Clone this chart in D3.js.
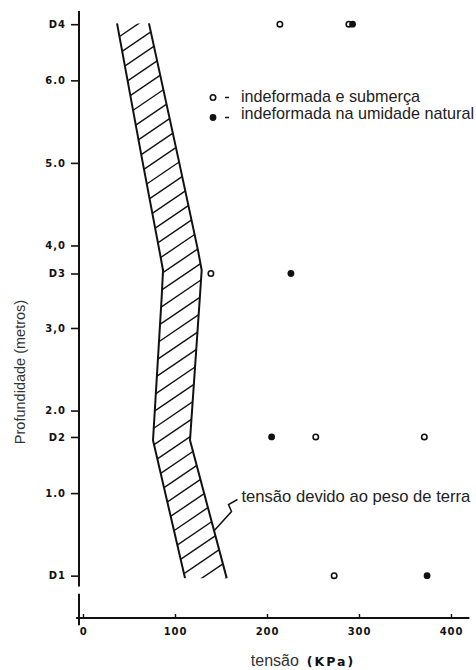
<!DOCTYPE html>
<html>
<head>
<meta charset="utf-8">
<script src="https://cdn.jsdelivr.net/npm/d3@7/dist/d3.min.js"></script>
<style>
  html, body { margin: 0; padding: 0; background: #fff; }
  svg { display: block; }
  .hand { font-family: "DejaVu Sans", sans-serif; font-weight: bold; }
  .txt { font-family: "Liberation Sans", Arial, sans-serif; }
</style>
</head>
<body>
<svg id="chart" width="476" height="670"></svg>
<script>
// Sample depths (m) and the y-axis tick labels
const sampleNames = ["D1", "D2", "D3", "D4"];
const sampleDepths = [0.0, 1.68, 3.66, 6.68];
const depthTicks = [6.68, 6.0, 5.0, 4.0, 3.66, 3.0, 2.0, 1.68, 1.0, 0.0];
const depthLabels = ["D4", "6.0", "5.0", "4,0", "D3", "3,0", "2.0", "D2", "1.0", "D1"];

// Stress axis (kPa)
const tensaoTicks = [0, 100, 200, 300, 400];

// Undisturbed, submerged samples
const submersaSample = ["D4", "D4", "D3", "D2", "D2", "D1"];
const submersaTensao = [214, 289, 139, 253, 371, 273];

// Undisturbed samples at natural moisture
const naturalSample = ["D4", "D3", "D2", "D1"];
const naturalTensao = [293, 226, 205, 374];

// Band of stress due to the soil's own weight
const bandDepth = [6.69, 5.07, 3.94, 3.70, 3.37, 1.64, -0.03];
const bandMin = [37, 63.8, 83, 87, 85.5, 76.1, 110.9];
const bandMax = [71.7, 103.3, 125, 129, 127, 116.3, 156.2];

const svg = d3.select("#chart");
const ink = "#111";

const x = d3.scaleLinear().domain([0, 400]).range([83, 451]);
const y = d3.scaleLinear().domain([-0.513, 6.84]).range([618, 11]);
const depthOf = name => sampleDepths[sampleNames.indexOf(name)];

// Axes
const axisX = 79;
const yAxis = d3.axisLeft(y)
  .tickValues(depthTicks)
  .tickFormat((d, i) => depthLabels[i])
  .tickSize(8)
  .tickPadding(5);
const gy = svg.append("g").attr("transform", `translate(${axisX},0)`).call(yAxis);
gy.select(".domain").remove();
gy.selectAll(".tick line").attr("stroke", ink).attr("stroke-width", 1.6);
gy.selectAll(".tick text").attr("class", "hand").attr("font-size", 10)
  .attr("fill", ink).attr("letter-spacing", 1);

// vertical axis line, with a short break just above the origin
[[6.84, -0.13], [-0.22, -0.6]].forEach(([a, b]) => {
  svg.append("line").attr("x1", axisX).attr("x2", axisX)
    .attr("y1", y(a)).attr("y2", y(b))
    .attr("stroke", ink).attr("stroke-width", 2);
});

const xAxis = d3.axisBottom(x)
  .tickValues(tensaoTicks)
  .tickSize(-4)
  .tickPadding(10);
const gx = svg.append("g").attr("transform", `translate(0,${y(-0.513)})`).call(xAxis);
gx.select(".domain").remove();
gx.selectAll(".tick line").attr("stroke", ink).attr("stroke-width", 1.4);
gx.selectAll(".tick text").attr("class", "hand").attr("font-size", 10)
  .attr("fill", ink).attr("letter-spacing", 0.8);
svg.append("line").attr("x1", x(-7.5)).attr("x2", x(420))
  .attr("y1", y(-0.513)).attr("y2", y(-0.513))
  .attr("stroke", ink).attr("stroke-width", 2);

// Axis titles
svg.append("text").attr("class", "txt")
  .attr("transform", `translate(25,${372}) rotate(-90)`)
  .attr("text-anchor", "middle").attr("font-size", 14.5).attr("fill", "#333")
  .text("Profundidade (metros)");

const title = svg.append("text").attr("x", 303).attr("y", 666)
  .attr("text-anchor", "middle").attr("fill", ink);
title.append("tspan").attr("class", "txt").attr("font-size", 16).attr("fill", "#333").text("tensão");
title.append("tspan").attr("class", "hand").attr("font-size", 12.5)
  .attr("letter-spacing", 2).attr("dx", 8).text("(KPa)");

// Hatched band
const bandPts = bandDepth.map((d, i) => [x(bandMin[i]), y(d)])
  .concat(bandDepth.map((d, i) => [x(bandMax[i]), y(d)]).reverse());
svg.append("clipPath").attr("id", "bandClip")
  .append("polygon").attr("points", bandPts.map(p => p.join(",")).join(" "));

const slope = 0.68, step = 16.6;
const hatch = svg.append("g").attr("clip-path", "url(#bandClip)");
const x0 = 100, x1 = 250;
for (let c = 0; c < 760; c += step) {
  hatch.append("line")
    .attr("x1", x0).attr("y1", c)
    .attr("x2", x1).attr("y2", c - slope * (x1 - x0))
    .attr("stroke", ink).attr("stroke-width", 1.4);
}

const edge = d3.line().x(d => x(d[0])).y(d => y(d[1]));
[bandMin, bandMax].forEach(arr => {
  svg.append("path")
    .attr("d", edge(bandDepth.map((d, i) => [arr[i], d])))
    .attr("fill", "none").attr("stroke", ink).attr("stroke-width", 2)
    .attr("stroke-linejoin", "round");
});

// Leader and label for the band
const ax = 241.5, ay = 501.5;
svg.append("path")
  .attr("d", `M${ax - 4},${ay - 2} L${ax - 13},${ay + 3} L${ax - 10},${ay + 10} L${x(143)},${y(0.55)}`)
  .attr("fill", "none").attr("stroke", ink).attr("stroke-width", 1.5);
svg.append("text").attr("class", "txt").attr("x", ax).attr("y", ay)
  .attr("font-size", 16.6).attr("fill", "#222")
  .text("tensão devido ao peso de terra");

// Data points
svg.append("g").selectAll("circle")
  .data(submersaTensao.map((t, i) => ({ t, d: depthOf(submersaSample[i]) })))
  .join("circle")
  .attr("cx", d => x(d.t)).attr("cy", d => y(d.d)).attr("r", 2.7)
  .attr("fill", "#fff").attr("stroke", ink).attr("stroke-width", 1.6);

svg.append("g").selectAll("circle")
  .data(naturalTensao.map((t, i) => ({ t, d: depthOf(naturalSample[i]) })))
  .join("circle")
  .attr("cx", d => x(d.t)).attr("cy", d => y(d.d)).attr("r", 3.4)
  .attr("fill", ink);

// Legend
const legend = [
  { label: "indeformada e submerça", filled: false, cy: 97.5, base: 102 },
  { label: "indeformada na umidade natural", filled: true, cy: 117.5, base: 119 }
];
legend.forEach(l => {
  svg.append("circle").attr("cx", 213).attr("cy", l.cy).attr("r", l.filled ? 3.4 : 2.7)
    .attr("fill", l.filled ? ink : "#fff").attr("stroke", ink)
    .attr("stroke-width", l.filled ? 0 : 1.6);
  svg.append("line").attr("x1", 225).attr("x2", 229)
    .attr("y1", l.cy).attr("y2", l.cy).attr("stroke", ink).attr("stroke-width", 1.5);
  svg.append("text").attr("class", "txt").attr("x", 241).attr("y", l.base)
    .attr("font-size", 16.2).attr("fill", "#222").text(l.label);
});
</script>
</body>
</html>
